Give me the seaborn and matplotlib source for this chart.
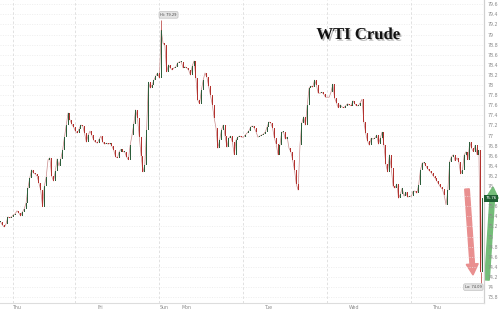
import numpy as np
import pandas as pd
import matplotlib
matplotlib.use("Agg")
import matplotlib.pyplot as plt
import seaborn as sns
import matplotlib.patheffects as pe
from matplotlib.patches import FancyArrow
from matplotlib.transforms import IdentityTransform

# ---- data: 30-minute closes of WTI crude ----
closes = [
    75.29, 75.23, 75.19, 75.25, 75.39, 75.37, 75.39, 75.43, 75.45, 75.51,
    75.47, 75.41, 75.49, 75.55, 75.67, 75.96, 76.16, 76.32, 76.26, 76.24,
    76.20, 76.06, 75.92, 75.59, 76.00, 76.18, 76.52, 76.56, 76.20, 76.10,
    76.30, 76.54, 76.40, 76.54, 76.71, 76.97, 77.21, 77.45, 77.31, 77.23,
    77.17, 77.09, 77.05, 77.13, 77.21, 77.19, 77.05, 76.87, 77.01, 77.09,
    77.01, 76.91, 76.87, 76.85, 76.93, 76.99, 76.87, 76.83, 76.85, 76.83,
    76.85, 76.79, 76.71, 76.58, 76.56, 76.68, 76.73, 76.68, 76.68, 76.58,
    76.52, 76.81, 77.01, 77.23, 77.51, 77.35, 76.97, 76.60, 76.28, 76.42,
    77.11, 78.06, 77.94, 78.00, 78.10, 78.18, 78.24, 78.14, 79.09, 78.83,
    78.79, 78.26, 78.40, 78.34, 78.30, 78.34, 78.36, 78.44, 78.46, 78.46,
    78.34, 78.36, 78.34, 78.30, 78.20, 78.38, 78.48, 78.14, 77.70, 77.63,
    77.90, 78.10, 78.24, 78.16, 77.98, 77.80, 77.61, 77.35, 77.15, 76.75,
    76.91, 77.11, 77.21, 76.99, 76.77, 76.95, 76.99, 76.87, 76.62, 76.91,
    76.97, 76.99, 76.97, 76.97, 77.01, 77.05, 77.09, 77.17, 77.19, 77.15,
    77.07, 76.97, 76.99, 77.01, 77.03, 77.07, 77.17, 77.27, 77.25, 77.15,
    76.95, 76.83, 76.62, 76.81, 77.07, 77.07, 76.93, 76.97, 76.75, 76.68,
    76.52, 76.32, 76.04, 75.92, 76.81, 77.25, 77.37, 77.21, 77.61, 77.94,
    77.98, 77.96, 78.10, 78.00, 77.84, 77.84, 77.86, 77.82, 77.76, 77.76,
    77.76, 77.86, 78.02, 77.74, 77.65, 77.55, 77.61, 77.57, 77.55, 77.59,
    77.63, 77.61, 77.59, 77.69, 77.63, 77.59, 77.59, 77.65, 77.72, 77.27,
    77.05, 76.89, 76.81, 76.95, 76.93, 76.95, 77.01, 76.83, 76.95, 77.07,
    76.81, 76.44, 76.28, 76.62, 76.36, 76.00, 75.96, 76.04, 75.76, 75.84,
    75.96, 75.80, 75.88, 75.78, 75.80, 75.80, 75.90, 75.90, 75.86, 76.02,
    76.32, 76.46, 76.46, 76.40, 76.34, 76.30, 76.26, 76.20, 76.16, 76.10,
    76.04, 75.98, 75.94, 75.82, 75.63, 75.92, 76.48, 76.58, 76.62, 76.50,
    76.56, 76.48, 76.24, 76.32, 76.62, 76.68, 76.52, 76.87, 76.75, 76.68,
    76.81, 76.62, 76.71, 74.30, 75.76,
]
session_high = 79.29
high_bar = 88
session_low = 74.09
low_bar = 263

day_labels = ["Thu", "Fri", "Sun", "Mon", "Tue", "Wed", "Thu"]
day_bars = [7, 53, 87, 99, 145, 191, 237]
session_bars = [7, 41, 87, 133, 179, 225]
y_ticks = [73.8, 74.0, 74.2, 74.4, 74.6, 74.8, 75.0, 75.2, 75.4, 75.6,
           75.8, 76.0, 76.2, 76.4, 76.6, 76.8, 77.0, 77.2, 77.4, 77.6,
           77.8, 78.0, 78.2, 78.4, 78.6, 78.8, 79.0, 79.2, 79.4, 79.6]
title = "WTI Crude"

# ---- build frame ----
df = pd.DataFrame({"bar": np.arange(len(closes)), "close": closes})
df["open"] = df["close"].shift(1).fillna(df["close"].iloc[0])
df["up"] = df["close"] >= df["open"]

sns.set_theme(style="white")
plt.rcParams["font.family"] = ["DejaVu Sans"]

fig, ax = plt.subplots(figsize=(5, 3.09), dpi=100)
fig.patch.set_facecolor("white")
ax.patch.set_visible(False)
fig.subplots_adjust(left=0.0, right=0.968, bottom=0.0194, top=1.0)

# grid
for v in y_ticks:
    ax.axhline(v, color="#e8e8e8", lw=0.5, ls=(0, (1.5, 2)), zorder=0)
for b in session_bars:
    ax.axvline(b, color="#dcdcdc", lw=0.6, ls=(0, (3, 2.5)), zorder=0)

# thin connecting line (wick feel)
sns.lineplot(data=df, x="bar", y="close", ax=ax, color="#c98b8b", lw=0.5,
             zorder=2, legend=False)

# candle bodies
h = df["close"] - df["open"]
minh = 0.012
height = np.where(np.abs(h) < minh, minh, np.abs(h))
bottom = np.minimum(df["open"], df["close"])
colors = np.where(df["up"], "#2c5e3b", "#b3322e")
ax.bar(df["bar"], height, bottom=bottom, width=0.5, color=colors,
       linewidth=0, zorder=3)

# extreme wicks
hb = df.loc[high_bar]
ax.vlines(high_bar, max(hb["open"], hb["close"]), session_high,
          color="#b3322e", lw=0.5, zorder=3)
lb = df.loc[low_bar]
ax.vlines(low_bar, session_low, min(lb["open"], lb["close"]),
          color="#b3322e", lw=0.5, zorder=3)

# Hi / Lo tags
tagbox = dict(boxstyle="round,pad=0.35", fc="#e4e4e4", ec="#b5b5b5", lw=0.4)
ax.text(high_bar - 0.5, session_high + 0.10, f"Hi: {session_high:.2f}",
        fontsize=2.6, color="#444444", ha="left", va="center", bbox=tagbox,
        zorder=5)
ax.text(low_bar + 0.6, session_low - 0.09, f"Lo: {session_low:.2f}",
        fontsize=2.6, color="#444444", ha="right", va="center", bbox=tagbox,
        zorder=5)

# axes limits
ax.set_xlim(-0.3, 264.8)
ax.set_ylim(73.685, 79.685)

# y axis on right (the label hidden under the last-price tag is omitted)
last = closes[-1]
ax.yaxis.tick_right()
ax.set_yticks(y_ticks)
ax.set_yticklabels(["" if abs(v - last) < 0.1 else f"{v:g}" for v in y_ticks])
ax.tick_params(axis="y", labelsize=3.4, labelcolor="#8a8a8a", length=0, pad=2.5)

ax.set_xticks(day_bars)
ax.set_xticklabels(day_labels, ha="left")
ax.tick_params(axis="x", labelsize=3.4, labelcolor="#8a8a8a", length=0, pad=1.5)
ax.set_xlabel("")
ax.set_ylabel("")

for s in ["left", "top"]:
    ax.spines[s].set_visible(False)
ax.spines["right"].set_color("#d0d0d0")
ax.spines["right"].set_linewidth(0.9)
ax.spines["bottom"].set_color("#dddddd")
ax.spines["bottom"].set_linewidth(0.8)

# last price tag
ax.text(1.003, last, f"{last:.2f}", transform=ax.get_yaxis_transform(),
        fontsize=2.9, color="white", ha="left", va="center", zorder=6,
        bbox=dict(boxstyle="square,pad=0.35", fc="#1f5f33", ec="none"),
        clip_on=False)

# title
fig.text(358 / 500, 1 - 35 / 309, title, ha="center", va="center",
         fontsize=12, fontweight="bold", family="Liberation Serif",
         color="#111111",
         path_effects=[pe.withSimplePatchShadow(offset=(1.2, -1.2),
                                                shadow_rgbFace="#888888",
                                                alpha=0.6)])

# arrows (display pixel coordinates, y from bottom), drawn beneath the axes
H = 309
red = FancyArrow(467, H - 189, 6, -86, width=4.5, head_width=12,
                 head_length=11, length_includes_head=True,
                 color="#e98f8f", transform=IdentityTransform(), zorder=-1)
green = FancyArrow(487, H - 280, 6, 93, width=4.5, head_width=12,
                   head_length=11, length_includes_head=True,
                   color="#74bd79", transform=IdentityTransform(), zorder=-1)
fig.add_artist(red)
fig.add_artist(green)

fig.savefig("out.png", dpi=100, facecolor="white")
